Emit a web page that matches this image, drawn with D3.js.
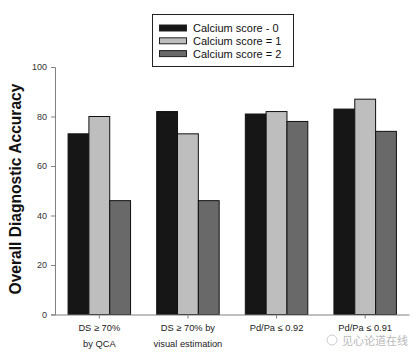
<!DOCTYPE html>
<html><head><meta charset="utf-8">
<script src="https://cdn.jsdelivr.net/npm/d3@7"></script>
<style>body{margin:0;background:#fff}svg{display:block;font-family:Arial,"Liberation Sans",sans-serif}</style>
</head><body><svg id="c" width="420" height="360"></svg>
<script>
const categories = [["DS \u2265 70%", "by QCA"], ["DS \u2265 70% by", "visual estimation"], ["Pd/Pa \u2264 0.92"], ["Pd/Pa \u2264 0.91"]];
const seriesNames = ["Calcium score - 0", "Calcium score = 1", "Calcium score = 2"];
const score0 = [73, 82, 81, 83];
const score1 = [80, 73, 82, 87];
const score2 = [46, 46, 78, 74];
const yTicks = [0, 20, 40, 60, 80, 100];
const colors = ["#161616", "#bebebe", "#696969"];

const series = [score0, score1, score2];
const svg = d3.select("#c");
const x = d3.scaleBand().domain(d3.range(categories.length)).range([55, 409.5]).paddingInner(0.295).paddingOuter(0.1475);
const xs = d3.scaleBand().domain(d3.range(series.length)).range([0, x.bandwidth()]).padding(0);
const y = d3.scaleLinear().domain([0, 100]).range([314.5, 67]);

// bars
series.forEach((vals, si) => {
  svg.append("g").selectAll("rect").data(vals).join("rect")
    .attr("x", (d, i) => x(i) + xs(si))
    .attr("y", d => y(d))
    .attr("width", xs.bandwidth())
    .attr("height", d => y(0) - y(d))
    .attr("fill", colors[si])
    .attr("stroke", "#111").attr("stroke-width", 1);
});

// y axis
const ya = svg.append("g").attr("transform", "translate(55,0)")
  .call(d3.axisLeft(y).tickValues(yTicks).tickSize(4).tickPadding(4));
ya.select(".domain").attr("stroke", "#808080");
ya.selectAll(".tick line").attr("stroke", "#808080");
ya.selectAll("text").attr("font-size", 9).attr("fill", "#333").attr("font-family", "Arial, Liberation Sans, sans-serif");

// x axis
const xa = svg.append("g").attr("transform", `translate(0,${y(0)})`)
  .call(d3.axisBottom(x).tickSize(4).tickFormat(""));
xa.select(".domain").attr("stroke", "#808080").attr("d", "M55,0.5H409.5");
xa.selectAll(".tick line").attr("stroke", "#808080");
categories.forEach((lines, i) => {
  lines.forEach((t, li) => {
    svg.append("text").attr("x", x(i) + x.bandwidth() / 2).attr("y", 331 + li * 16)
      .attr("text-anchor", "middle").attr("font-size", 9.3).attr("fill", "#222").text(t);
  });
});

// y title
svg.append("text").attr("transform", "translate(21,189) rotate(-90)")
  .attr("text-anchor", "middle").attr("font-size", 15.6).attr("font-weight", "bold").attr("fill", "#111")
  .text("Overall Diagnostic Accuracy");

// legend
svg.append("rect").attr("x", 152.5).attr("y", 14.5).attr("width", 141).attr("height", 52)
  .attr("fill", "#fff").attr("stroke", "#222").attr("stroke-width", 1);
seriesNames.forEach((n, i) => {
  const cy = 28 + i * 12.8;
  svg.append("rect").attr("x", 159.5).attr("y", cy - 3).attr("width", 27).attr("height", 6)
    .attr("fill", colors[i]).attr("stroke", "#222").attr("stroke-width", 1);
  svg.append("text").attr("x", 193).attr("y", cy + 4).attr("font-size", 11).attr("fill", "#111").text(n);
});

// watermark
svg.append("text").attr("x", 408).attr("y", 345).attr("text-anchor", "end")
  .attr("font-size", 11).attr("fill", "#b8b8b8").attr("font-family", "Noto Sans CJK SC, sans-serif")
  .text("见心论道在线");
svg.append("circle").attr("cx", 332).attr("cy", 340).attr("r", 5).attr("fill", "none").attr("stroke", "#ccc");
</script>
</body></html>
